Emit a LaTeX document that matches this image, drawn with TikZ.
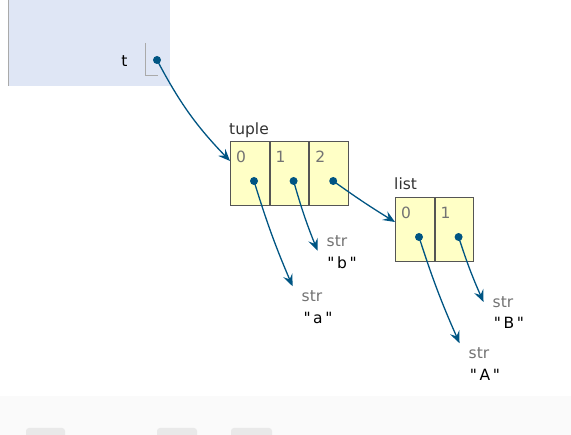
\documentclass[tikz,border=0pt]{standalone}
\usepackage{fontspec}
\setmainfont{DejaVu Sans}[Ligatures=TeXOff]
\usepackage{xcolor}
\usepackage{tikz}
\usetikzlibrary{positioning, arrows.meta}
\definecolor{framebg}  {RGB}{223, 230, 245}
\definecolor{frameline}{RGB}{170, 170, 170}
\definecolor{heapfill} {RGB}{255, 255, 198}
\definecolor{cellline} {RGB}{85,  85,  85}
\definecolor{pointer}  {RGB}{0,   85, 131}
\definecolor{typetext} {RGB}{51,  51,  51}
\definecolor{idxtext}  {RGB}{115, 115, 115}
\definecolor{bandbg}   {RGB}{250, 250, 250}
\definecolor{btnbg}    {RGB}{233, 233, 233}

\begin{document}
\begin{tikzpicture}[x=1pt, y=-1pt, font=\fontsize{15.5}{18}\selectfont,
    cell/.style={draw=cellline, fill=heapfill, line width=0.9pt,
                 minimum width=38.7pt, minimum height=64pt, inner sep=0pt},
    dot/.style={circle, fill=pointer, minimum size=8pt, inner sep=0pt},
    idx/.style={idxtext},
    typelabel/.style={typetext, anchor=base west, inner sep=0pt},
    strtype/.style={idxtext, inner xsep=9pt, inner ysep=4pt},
    strval/.style={black},
    ptr/.style={pointer, line width=1.3pt,
                -{Stealth[length=12pt, width=10pt, inset=4.5pt]}}]
  \useasboundingbox (0,0) rectangle (571,435);
  \fill[white] (0,0) rectangle (571,435);
  \fill[bandbg] (0,396) rectangle (571,435);
  \foreach \xa/\xb in {26/65, 157/197, 231/272}
    \fill[btnbg, rounded corners=3pt] (\xa,440) rectangle (\xb,428);

  % global frame
  \fill[framebg] (8,0) rectangle (170,86);
  \draw[frameline, line width=1pt] (8,0) -- (8,86);
  \node[black, anchor=east] (tname) at (131,61) {t};
  \draw[frameline, line width=1pt] (145,43) |- (158,76);
  \node[dot] (tptr) at (157,60) {};

  % tuple
  \node[typelabel] (tuplelbl) at (229,135) {tuple};
  \node[cell, anchor=north west] (tup0) at (230,141) {};
  \node[cell, right=0pt of tup0] (tup1) {};
  \node[cell, right=0pt of tup1] (tup2) {};
  \foreach \i in {0,1,2} {
    \node[idx] (tup\i i) at ([shift={(11,16)}]tup\i.north west) {\i};
    \node[dot] (tup\i p) at ([shift={(24,40)}]tup\i.north west) {};
  }

  % list
  \node[typelabel] (listlbl) at (394,190) {list};
  \node[cell, anchor=north west] (lst0) at (395,197) {};
  \node[cell, right=0pt of lst0] (lst1) {};
  \foreach \i in {0,1} {
    \node[idx] (lst\i i) at ([shift={(11,16)}]lst\i.north west) {\i};
    \node[dot] (lst\i p) at ([shift={(24,40)}]lst\i.north west) {};
  }

  % strings
  \node[strtype] (stra) at (312,296) {str};
  \node[strval] (vala) at (318,318) {"\,a\,"};
  \node[strtype] (strb) at (337,241) {str};
  \node[strval] (valb) at (342,263) {"\,b\,"};
  \node[strtype] (strA) at (479,353) {str};
  \node[strval] (valA) at (485,375) {"\,A\,"};
  \node[strtype] (strB) at (503,302) {str};
  \node[strval] (valB) at (509,323) {"\,B\,"};

  % pointers
  \draw[ptr] (tptr.center) to[bend right=8] ([yshift=-20pt]tup0.north west);
  \draw[ptr] (tup0p.center) to[bend right=3] (stra.north west);
  \draw[ptr] (tup1p.center) to[bend right=3] (strb.south west);
  \draw[ptr] (tup2p.center) to[bend right=2] ([yshift=-25pt]lst0.north west);
  \draw[ptr] (lst0p.center) to[bend right=3] (strA.north west);
  \draw[ptr] (lst1p.center) to[bend right=3] (strB.west);
\end{tikzpicture}
\end{document}
